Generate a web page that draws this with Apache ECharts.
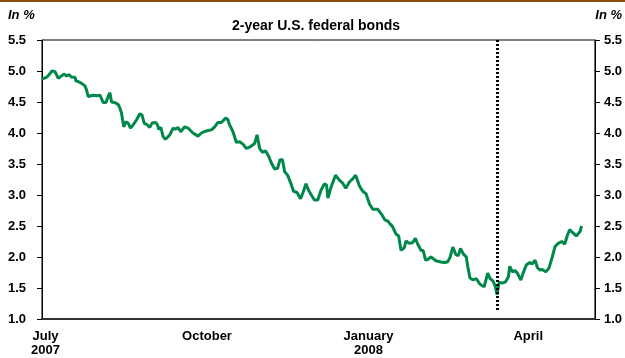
<!DOCTYPE html>
<html>
<head>
<meta charset="utf-8">
<script src="https://cdn.jsdelivr.net/npm/echarts@6/dist/echarts.min.js"></script>
<style>
  html, body { margin: 0; padding: 0; background: #fff; }
  #chart { width: 625px; height: 358px; }
</style>
</head>
<body>
<div id="chart"></div>
<script>
// days counted from 1 July 2007
var days = [-2.0,0.7,2.0,3.7,5.4,6.5,7.3,8.6,10.5,12.0,
  13.5,14.9,15.8,16.8,17.3,18.6,20.6,22.5,23.4,24.3,
  25.3,27.2,29.1,31.0,31.9,32.9,34.4,35.7,36.7,37.6,
  39.5,41.4,42.4,43.3,44.6,45.8,47.1,48.4,49.9,51.8,
  53.7,55.0,56.2,58.1,59.4,60.7,62.7,63.8,64.5,65.7,
  67.0,68.3,69.5,70.8,72.7,74.0,75.5,77.0,79.3,81.2,
  84.0,86.9,88.8,90.3,91.3,92.6,94.5,96.4,98.2,100.2,
  101.1,102.6,103.8,104.9,106.8,108.7,110.6,112.5,114.4,116.8,
  119.1,120.5,122.0,123.5,125.4,127.2,128.6,130.5,132.2,133.6,
  135.0,136.2,137.9,139.6,141.3,143.3,144.3,145.3,146.7,148.4,
  149.8,151.4,153.2,155.1,157.0,158.9,160.1,160.9,162.7,165.2,
  167.4,169.3,171.1,173.1,175.0,176.7,178.8,180.7,182.6,184.5,
  186.4,189.2,191.2,192.1,193.3,195.0,196.4,197.7,199.7,201.2,
  202.5,204.4,205.4,207.2,209.1,210.7,212.0,213.9,215.2,216.5,
  217.7,219.6,220.6,222.4,225.3,227.1,229.0,230.4,232.1,233.7,
  235.1,236.4,238.0,239.7,240.6,241.8,243.6,245.5,247.0,248.5,
  249.9,251.9,253.3,255.0,256.3,257.2,258.4,260.3,262.1,263.7,
  264.5,266.0,267.5,268.8,270.8,272.1,273.9,275.9,277.4,278.9,
  280.2,281.6,283.0,285.0,286.8,288.7,290.3,292.1,294.1,295.0,
  295.8,297.3,298.6,300.5,302.4,303.5,304.5,305.4];

var yields = [4.87,4.90,4.94,5.00,4.99,4.97,4.88,4.91,4.95,4.92,
  4.94,4.90,4.88,4.90,4.84,4.83,4.80,4.76,4.69,4.59,
  4.58,4.61,4.60,4.61,4.59,4.49,4.49,4.59,4.65,4.50,
  4.49,4.46,4.40,4.32,4.10,4.18,4.16,4.08,4.13,4.21,
  4.31,4.29,4.16,4.13,4.09,4.16,4.17,4.13,4.06,4.09,
  3.94,3.90,3.93,3.97,4.08,4.06,4.09,4.02,4.10,4.08,
  4.00,3.95,4.00,4.02,4.00,4.04,4.05,4.10,4.17,4.17,
  4.20,4.24,4.22,4.13,4.02,3.85,3.86,3.82,3.75,3.78,
  3.83,3.97,3.75,3.69,3.71,3.62,3.52,3.42,3.43,3.57,
  3.57,3.38,3.32,3.20,3.06,3.04,3.07,2.94,3.04,3.18,
  3.08,3.00,2.92,2.92,3.08,3.18,3.16,2.95,3.13,3.32,
  3.24,3.19,3.11,3.21,3.26,3.32,3.15,3.06,3.02,2.86,
  2.77,2.77,2.70,2.73,2.60,2.58,2.53,2.49,2.37,2.34,
  2.11,2.15,2.26,2.22,2.23,2.30,2.21,2.11,2.10,1.95,
  1.96,2.00,1.97,1.94,1.92,1.91,1.92,1.99,2.16,2.04,
  2.02,2.14,2.05,2.00,1.84,1.66,1.63,1.65,1.58,1.54,
  1.52,1.74,1.65,1.61,1.52,1.39,1.59,1.58,1.60,1.68,
  1.85,1.76,1.78,1.74,1.63,1.74,1.87,1.91,1.89,1.95,
  1.83,1.79,1.80,1.76,1.82,2.00,2.17,2.22,2.25,2.27,
  2.21,2.35,2.44,2.39,2.34,2.32,2.41,2.50];

var tickDays = [0, 92, 184, 275];
var tickLabels = ["July\n2007", "October", "January\n2008", "April"];
var eventDay = 257.3; // mid March 2008
var eventRange = [5.5, 1.12];

var font = "Liberation Sans, Arial, sans-serif";

var seriesData = [];
for (var i = 0; i < days.length; i++) {
  seriesData.push([days[i], yields[i]]);
}

var myChart = echarts.init(document.getElementById("chart"), null, { renderer: "canvas" });

var yAxisBase = {
  type: "value",
  min: 1,
  max: 5.5,
  interval: 0.5,
  splitLine: { show: false },
  axisLine: { show: true, onZero: false, lineStyle: { color: "#000", width: 1 } },
  axisTick: { show: true, length: 5, lineStyle: { color: "#000" } },
  axisLabel: {
    color: "#000",
    fontFamily: font,
    fontWeight: "bold",
    fontSize: 13,
    formatter: function (v) { return v.toFixed(1); }
  }
};

var option = {
  animation: false,
  backgroundColor: "#fff",
  grid: {
    left: 42,
    right: 29,
    top: 40,
    bottom: 39,
    show: true,
    borderColor: "#000",
    borderWidth: 1
  },
  graphic: [
    { type: "rect", left: 0, top: 0, shape: { width: 625, height: 2 }, style: { fill: "#8b4a12" } },
    { type: "text", left: 8, top: 9, style: { text: "In %", font: "italic bold 13px " + font, fill: "#000" } },
    { type: "text", right: 3, top: 9, style: { text: "In %", font: "italic bold 13px " + font, fill: "#000" } },
    { type: "text", left: 232, top: 19, style: { text: "2-year U.S. federal bonds", font: "bold 14px " + font, fill: "#000" } }
  ],
  xAxis: {
    type: "value",
    min: -2,
    max: 313,
    splitLine: { show: false },
    axisLine: { show: true, onZero: false, lineStyle: { color: "#333", width: 2 } },
    axisTick: { show: false },
    axisLabel: {
      customValues: tickDays,
      color: "#000",
      fontFamily: font,
      fontWeight: "bold",
      fontSize: 13,
      lineHeight: 14,
      margin: 10,
      formatter: function (v) {
        var k = tickDays.indexOf(v);
        return k >= 0 ? tickLabels[k] : "";
      }
    }
  },
  yAxis: [
    Object.assign({}, yAxisBase, { position: "left", axisLabel: Object.assign({}, yAxisBase.axisLabel, { margin: 16 }) }),
    Object.assign({}, yAxisBase, { position: "right", axisLabel: Object.assign({}, yAxisBase.axisLabel, { margin: 9 }) })
  ],
  series: [
    {
      type: "line",
      data: seriesData,
      showSymbol: false,
      lineStyle: { color: "#00884a", width: 3 },
      itemStyle: { color: "#00884a" },
      z: 3,
      markLine: {
        silent: true,
        symbol: "none",
        label: { show: false },
        lineStyle: { color: "#000", type: [2, 2], width: 3 },
        data: [[{ coord: [eventDay, eventRange[0]] }, { coord: [eventDay, eventRange[1]] }]]
      }
    }
  ]
};

option && myChart.setOption(option);
</script>
</body>
</html>
